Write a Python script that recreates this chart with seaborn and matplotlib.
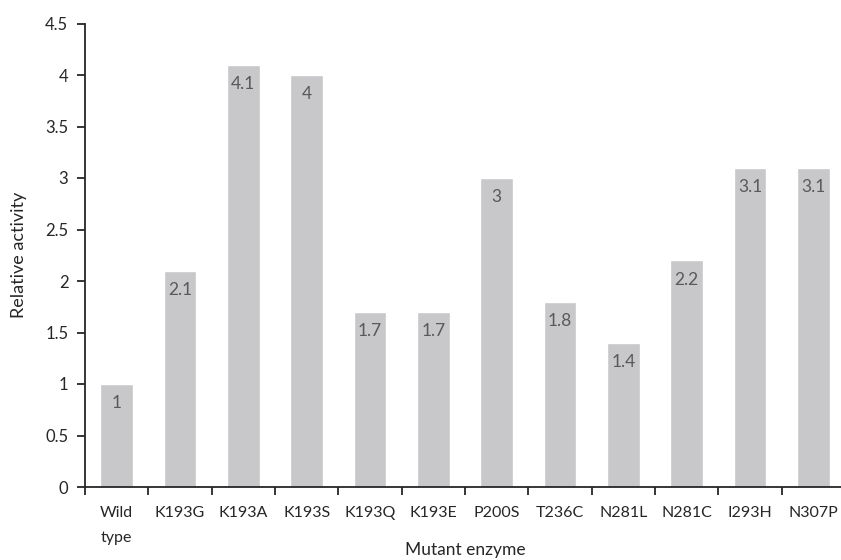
import matplotlib
matplotlib.use("Agg")
import matplotlib.pyplot as plt
import seaborn as sns
import pandas as pd
import numpy as np

# Relative activity of wild type and mutant enzymes
mutants = ["Wild\ntype", "K193G", "K193A", "K193S", "K193Q", "K193E",
           "P200S", "T236C", "N281L", "N281C", "I293H", "N307P"]
activity = [1, 2.1, 4.1, 4, 1.7, 1.7, 3, 1.8, 1.4, 2.2, 3.1, 3.1]
y_ticks = [0, 0.5, 1, 1.5, 2, 2.5, 3, 3.5, 4, 4.5]

df = pd.DataFrame({"mutant": mutants, "activity": activity})

sns.set_style("white")
plt.rcParams["font.family"] = ["Lato", "DejaVu Sans"]

fig = plt.figure(figsize=(8.41, 5.6), dpi=100)
ax_h = 487 - 23.5
ax_w = 845 - 85
ax = fig.add_axes([85 / 841, 1 - 487 / 560, ax_w / 841, ax_h / 560])

sns.barplot(data=df, x="mutant", y="activity", color="#c8c8ca",
            saturation=1, width=0.52, ax=ax)

for i, v in enumerate(activity):
    ax.annotate(f"{v:g}", (i, v), xytext=(0, -8), textcoords="offset points",
                ha="center", va="top", fontsize=12.5, color="#595959")

ax.set_ylim(0, 4.5)
ax.set_xlim(-0.5, 11.5)
ax.set_yticks(y_ticks)
ax.set_yticklabels([f"{t:g}" for t in y_ticks])

# tick marks sit between categories, labels at category centres
ax.set_xticks(np.arange(len(mutants)))
ax.set_xticklabels(mutants, ha="center", linespacing=1.95)
ax.set_xticks(np.arange(len(mutants) + 1) - 0.5, minor=True)
ax.tick_params(axis="x", which="major", bottom=True, length=0, pad=14,
               labelsize=11.5, labelcolor="#262626")
ax.tick_params(axis="x", which="minor", bottom=True, length=6, width=1.3,
               color="#262626", direction="out")
ax.tick_params(axis="y", left=True, length=6, width=1.3, color="#262626",
               direction="out", labelsize=12, labelcolor="#262626", pad=6)

for side in ["top", "right"]:
    ax.spines[side].set_visible(False)
for side in ["left", "bottom"]:
    ax.spines[side].set_color("#262626")
    ax.spines[side].set_linewidth(1.3)

ax.set_xlabel("Mutant enzyme", fontsize=12.5, color="#262626")
ax.set_ylabel("Relative activity", fontsize=13, color="#262626")
ax.xaxis.label.set_verticalalignment("center")
ax.yaxis.label.set_verticalalignment("center")
ax.xaxis.set_label_coords((465 - 85) / ax_w, -(550 - 487) / ax_h)
ax.yaxis.set_label_coords(-(85 - 19) / ax_w, 0.5)

fig.savefig("out.png", dpi=100)
